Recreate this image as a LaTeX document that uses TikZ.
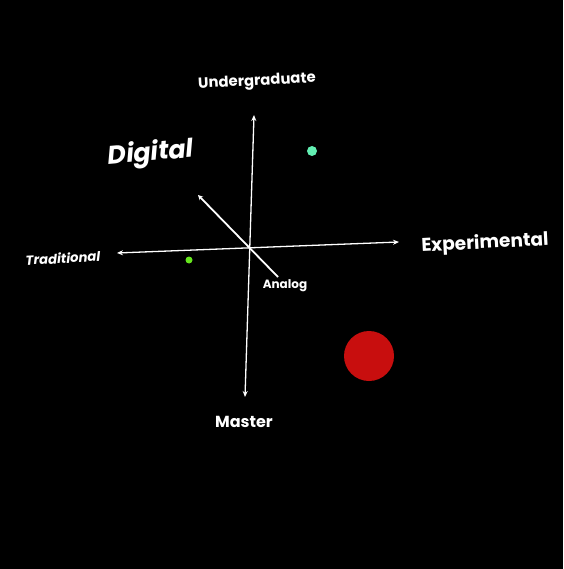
\documentclass[tikz,border=0pt]{standalone}
\usepackage{fontspec}
\setmainfont{Poppins}
\usetikzlibrary{arrows.meta}
\begin{document}
\begin{tikzpicture}[x=1pt,y=-1pt,
  axis/.style={white,line width=1.3pt,{Stealth[length=6pt,width=5pt]}-{Stealth[length=6pt,width=5pt]}},
  diag/.style={white,line width=1.8pt,{Stealth[length=5pt,width=5pt]}-},
  lbl/.style={text=white,inner sep=0pt,font=\bfseries}]
\fill[black] (0,0) rectangle (563,569);
\useasboundingbox (0,0) rectangle (563,569);
\coordinate (vt) at (254,115);
\coordinate (vb) at (245,397);
\coordinate (hl) at (117,253);
\coordinate (hr) at (399,242);
\coordinate (dt) at (198,195);
\coordinate (db) at (278,277);
\draw[axis] (vb) -- (vt);
\draw[axis] (hl) -- (hr);
\draw[diag] (dt) -- (db);
\node[lbl,font=\bfseries\fontsize{14.8}{17}\selectfont,rotate=3] (ug) at (257,82) {Undergraduate};
\node[lbl,font=\bfseries\itshape\fontsize{25.5}{30}\selectfont,rotate=5] (dg) at (151,154) {Digital};
\node[lbl,font=\bfseries\itshape\fontsize{13.2}{16}\selectfont,rotate=3] (tr) at (63,258) {Traditional};
\node[lbl,font=\bfseries\fontsize{18.5}{22}\selectfont,rotate=3] (ex) at (485,243.5) {Experimental};
\node[lbl,font=\bfseries\fontsize{12}{14}\selectfont] (an) at (285,286) {Analog};
\node[lbl,font=\bfseries\fontsize{16}{19}\selectfont] (ms) at (244,422) {Master};
\fill[fill={rgb,255:red,98;green,238;blue,178}] (312,151) circle (5pt);
\fill[fill={rgb,255:red,102;green,230;blue,30}] (189,260) circle (3.5pt);
\fill[fill={rgb,255:red,200;green,14;blue,14}] (369,356) circle (25pt);
\end{tikzpicture}
\end{document}
